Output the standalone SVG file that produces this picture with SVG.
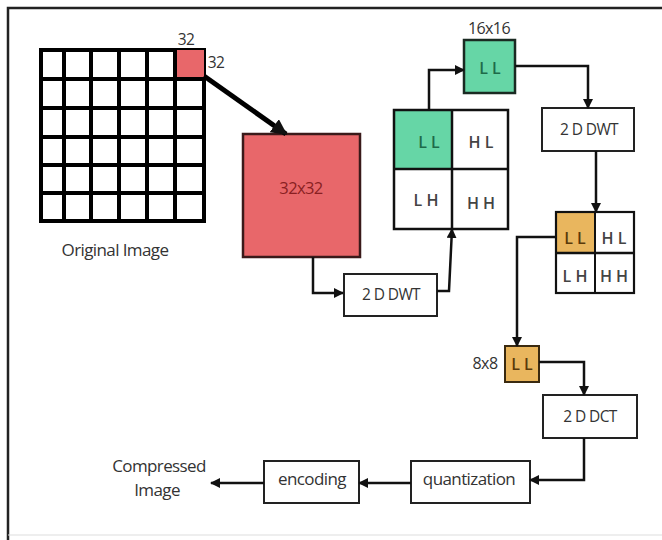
<svg xmlns="http://www.w3.org/2000/svg" width="662" height="540" viewBox="0 0 662 540">
<defs>
<style>
text{font-family:"Open Sans","Liberation Sans",sans-serif;fill:#333;}
.box{fill:#fff;stroke:#222;stroke-width:2;}
.lbl{font-size:14px;text-anchor:middle;letter-spacing:-0.6px;}
.big{font-size:15.5px;}
.q{font-size:16px;text-anchor:middle;font-weight:600;fill:#444;}
.con{fill:none;stroke:#111;stroke-width:2.5;}
.grid{fill:#fff;stroke:#000;stroke-width:4;}
</style>
<marker id="ah" viewBox="0 0 10 10" refX="9" refY="5" markerWidth="4" markerHeight="4" orient="auto-start-reverse">
<path d="M0,0 L10,5 L0,10 z" fill="#111"/>
</marker>
<marker id="ahb" viewBox="0 0 10 10" refX="9" refY="5" markerWidth="3.2" markerHeight="3.2" orient="auto">
<path d="M0,0 L10,5 L0,10 z" fill="#111"/>
</marker>
</defs>
<rect width="662" height="540" fill="#fff"/>
<path d="M8,540 V8 H662" fill="none" stroke="#222" stroke-width="2.5"/>
<line x1="8" y1="535" x2="662" y2="535" stroke="#ddd" stroke-width="1"/>

<g id="original-image">
<rect x="41" y="50" width="163" height="171" class="grid"/>
<rect x="175" y="50" width="29" height="28" fill="#e8676a"/>
<g stroke="#000" stroke-width="4">
<line x1="64" y1="50" x2="64" y2="221"/>
<line x1="91" y1="50" x2="91" y2="221"/>
<line x1="119" y1="50" x2="119" y2="221"/>
<line x1="147" y1="50" x2="147" y2="221"/>
<line x1="175" y1="50" x2="175" y2="221"/>
<line x1="41" y1="79" x2="204" y2="79"/>
<line x1="41" y1="108" x2="204" y2="108"/>
<line x1="41" y1="137" x2="204" y2="137"/>
<line x1="41" y1="165" x2="204" y2="165"/>
<line x1="41" y1="193" x2="204" y2="193"/>
</g>
<text x="186" y="45" class="lbl big">32</text>
<text x="216" y="68" class="lbl big">32</text>
<text x="115" y="256" class="lbl" style="font-size:17px">Original Image</text>
</g>

<g id="block32">
<rect x="243" y="134" width="117" height="123" fill="#e8676a" stroke="#3a1a1a" stroke-width="2.5"/>
<text x="301" y="194" class="lbl" style="font-size:16.5px;fill:#8a1f22">32x32</text>
</g>

<g id="dwt1">
<rect x="344" y="274" width="93" height="42" class="box"/>
<text x="391" y="300" class="lbl big">2 D DWT</text>
</g>

<g id="quad1">
<rect x="394" y="110" width="58" height="59" fill="#66d6a6"/>
<rect x="394" y="110" width="114" height="119" fill="none" stroke="#111" stroke-width="2.5"/>
<line x1="452" y1="110" x2="452" y2="229" stroke="#111" stroke-width="2.5"/>
<line x1="394" y1="169" x2="508" y2="169" stroke="#111" stroke-width="2.5"/>
<text x="429" y="148" class="q" style="fill:#1e6b4a">L L</text>
<text x="481" y="148" class="q">H L</text>
<text x="426" y="206" class="q">L H</text>
<text x="481" y="209" class="q">H H</text>
</g>

<g id="ll16">
<rect x="464" y="40" width="51" height="53" fill="#66d6a6" stroke="#1a2a22" stroke-width="2.5"/>
<text x="490" y="74" class="q" style="fill:#1e6b4a">L L</text>
<text x="489" y="34" class="lbl" style="font-size:16px">16x16</text>
</g>

<g id="dwt2">
<rect x="542" y="108" width="92" height="43" class="box"/>
<text x="589" y="135" class="lbl big">2 D DWT</text>
</g>

<g id="quad2">
<rect x="556" y="212" width="39" height="41" fill="#e9b65e"/>
<rect x="556" y="212" width="78" height="81" fill="none" stroke="#111" stroke-width="2.2"/>
<line x1="595" y1="212" x2="595" y2="293" stroke="#111" stroke-width="2"/>
<line x1="556" y1="253" x2="634" y2="253" stroke="#111" stroke-width="2.5"/>
<text x="575" y="244" class="q" style="fill:#5a3a0a">L L</text>
<text x="614" y="244" class="q">H L</text>
<text x="575" y="282" class="q">L H</text>
<text x="614" y="282" class="q">H H</text>
</g>

<g id="ll8">
<rect x="505" y="346" width="34" height="36" fill="#e9b65e" stroke="#3a2a10" stroke-width="2"/>
<text x="522" y="370" class="q" style="fill:#5a3a0a">L L</text>
<text x="485" y="369" class="lbl" style="font-size:16px">8x8</text>
</g>

<g id="dct">
<rect x="543" y="395" width="94" height="43" class="box"/>
<text x="590" y="422" class="lbl big">2 D DCT</text>
</g>

<g id="quantization">
<rect x="411" y="461" width="119" height="42" class="box"/>
<text x="469" y="485" class="lbl" style="font-size:17px">quantization</text>
</g>

<g id="encoding">
<rect x="264" y="461" width="95" height="42" class="box"/>
<text x="312" y="485" class="lbl" style="font-size:17px">encoding</text>
</g>

<g id="compressed">
<text x="159" y="472" class="lbl" style="font-size:17px">Compressed</text>
<text x="157" y="496" class="lbl" style="font-size:17px">Image</text>
</g>

<g id="connectors">
<line x1="204" y1="76" x2="286" y2="134" stroke="#000" stroke-width="5" marker-end="url(#ahb)"/>
<path d="M313,257 V293 H343" class="con" marker-end="url(#ah)"/>
<path d="M437,291 H449 L452,229" class="con" marker-end="url(#ah)"/>
<path d="M429,110 V70 H464" class="con" marker-end="url(#ah)"/>
<path d="M515,66 H588 V108" class="con" marker-end="url(#ah)"/>
<path d="M596,151 V212" class="con" marker-end="url(#ah)"/>
<path d="M556,237 H517 V346" class="con" marker-end="url(#ah)"/>
<path d="M539,362 H584 V395" class="con" marker-end="url(#ah)"/>
<path d="M584,438 V480 H530" class="con" marker-end="url(#ah)"/>
<path d="M411,483 H359" class="con" marker-end="url(#ah)"/>
<path d="M264,483 H211" class="con" marker-end="url(#ah)"/>
</g>
</svg>
